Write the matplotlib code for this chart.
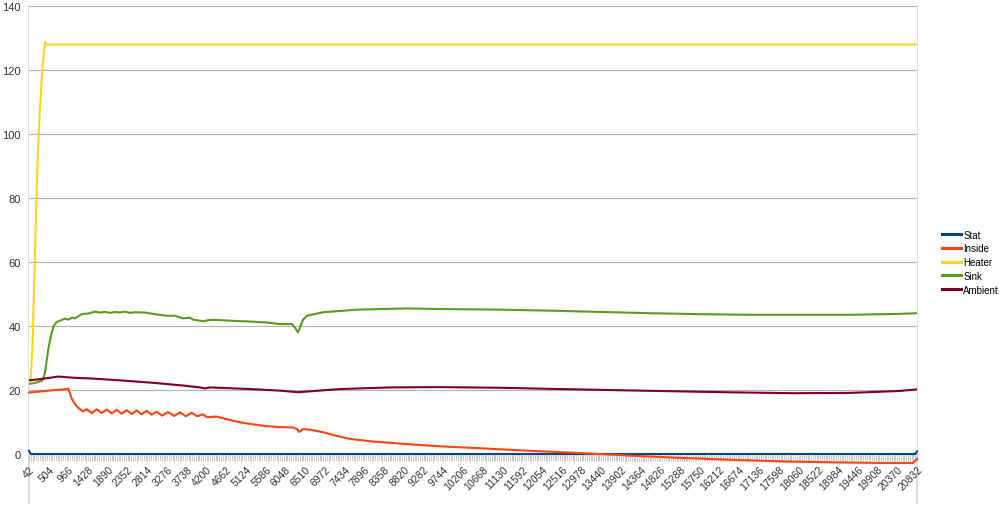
import matplotlib
matplotlib.use("Agg")
import matplotlib.pyplot as plt
from matplotlib.lines import Line2D

plt.rcParams['font.family'] = ['Liberation Sans', 'DejaVu Sans']

# ---------------- data (time samples) ----------------
stat_t = [42, 84, 20790, 20832]
stat_v = [1.0, 0.0, 0.0, 0.8]

inside_t = [42, 500, 924, 962, 1042, 1119, 1189, 1236, 1306, 1393, 1510, 1627, 1744,
            1861, 1978, 2095, 2212, 2329, 2446, 2563, 2680, 2797, 2914, 3032, 3156,
            3296, 3437, 3577, 3717, 3851, 3975, 4115, 4209, 4436, 4630, 4818, 4982,
            5216, 5607, 5918, 6222, 6316, 6363, 6410, 6457, 6620, 6925, 7206, 7557,
            8095, 8891, 9664, 10600, 11770, 12941, 14112, 15282, 16453, 17623, 18794,
            19964, 20737, 20832]
inside_v = [19.2, 19.8, 20.3, 20.4, 17.3, 15.6, 14.5, 14.0, 13.3, 14.0, 12.8, 14.0, 12.8,
            13.9, 12.7, 13.8, 12.6, 13.7, 12.5, 13.6, 12.4, 13.5, 12.3, 13.2, 12.0,
            13.1, 11.9, 13.0, 11.8, 12.9, 11.8, 12.4, 11.5, 11.7, 11.0, 10.4, 9.9,
            9.4, 8.7, 8.4, 8.3, 7.8, 6.9, 7.3, 7.8, 7.6, 6.8, 5.8, 4.7,
            3.9, 3.1, 2.4, 1.8, 1.0, 0.3, -0.5, -1.2, -1.8, -2.3, -2.6,
            -2.8, -2.8, -1.6]

heater_t = [42, 84, 126, 168, 210, 252, 294, 336, 378, 420, 462, 20832]
heater_v = [23.0, 23.5, 35.0, 55.0, 77.0, 95.0, 107.0, 116.0, 124.0, 128.8, 128.0, 128.0]

sink_t = [42, 182, 339, 370, 417, 494, 573, 627, 690, 807, 885, 962, 1049, 1119, 1189,
          1276, 1423, 1587, 1704, 1821, 1938, 2055, 2172, 2289, 2406, 2523, 2758, 2992,
          3265, 3460, 3647, 3811, 3881, 4115, 4279, 4436, 4818, 5216, 5607, 5918, 6199,
          6269, 6340, 6386, 6457, 6550, 6925, 7721, 8891, 9664, 11068, 12238, 13409,
          14580, 15750, 16921, 18091, 19262, 20432, 20832]
sink_v = [21.9, 22.2, 22.9, 23.3, 25.5, 32.8, 38.0, 40.2, 41.2, 41.9, 42.3, 42.0, 42.6,
          42.4, 43.0, 43.7, 43.9, 44.5, 44.2, 44.4, 44.1, 44.4, 44.2, 44.5, 44.1, 44.3,
          44.2, 43.7, 43.2, 43.2, 42.4, 42.6, 42.0, 41.5, 41.9, 41.9, 41.6, 41.4, 41.1,
          40.6, 40.6, 39.5, 38.0, 39.5, 42.0, 43.2, 44.3, 45.1, 45.5, 45.3, 45.1, 44.8,
          44.4, 44.0, 43.7, 43.5, 43.5, 43.5, 43.8, 44.0]

ambient_t = [42, 300, 728, 1119, 1510, 2289, 2992, 3647, 4045, 4162, 4279, 5216, 5918,
             6340, 7323, 8493, 9664, 11068, 12473, 14346, 16382, 17927, 19262, 20432, 20832]
ambient_v = [23.0, 23.4, 24.2, 23.8, 23.6, 22.9, 22.2, 21.4, 20.8, 20.5, 20.8, 20.3, 19.8,
             19.3, 20.3, 20.8, 20.9, 20.7, 20.3, 19.8, 19.3, 19.0, 19.1, 19.7, 20.2]

series_names = ["Stat", "Inside", "Heater", "Sink", "Ambient"]
series_colors = ["#004586", "#ff420e", "#ffd320", "#579d1c", "#7e0021"]

x_start, x_end, x_step, label_every = 42, 20832, 42, 11
y_ticks = [0, 20, 40, 60, 80, 100, 120, 140]

# ---------------- plot ----------------
fig = plt.figure(figsize=(10, 5.06), dpi=100)
L, R, B, T = 29 / 1000, 917 / 1000, (506 - 455) / 506, (506 - 7) / 506
ax = fig.add_axes([L, B, R - L, T - B])

data = [(stat_t, stat_v), (inside_t, inside_v), (heater_t, heater_v),
        (sink_t, sink_v), (ambient_t, ambient_v)]
for (t, v), name, col in zip(data, series_names, series_colors):
    ax.plot(t, v, color=col, lw=1.5, label=name,
            clip_on=(name not in ("Inside", "Stat")),
            solid_joinstyle='round', zorder=3)

ax.set_xlim(x_start, x_end)
ax.set_ylim(0, 140)
ax.set_yticks(y_ticks)
ax.set_yticklabels([str(v) for v in y_ticks])
ax.grid(axis='y', color='#b3b3b3', lw=0.8)
ax.set_axisbelow(True)

cats = list(range(x_start, x_end + 1, x_step))
major = cats[::label_every]
ax.set_xticks(major)
ax.set_xticklabels([str(c) for c in major], rotation=45, ha='right', va='top',
                   rotation_mode='anchor')
ax.set_xticks(cats, minor=True)
ax.tick_params(axis='x', which='both', length=5, width=0.5, color='#b3b3b3',
               labelsize=7.5, labelcolor='#333333', pad=2)
ax.tick_params(axis='y', length=0, labelsize=8, labelcolor='#333333', pad=6)

for s in ['top', 'right', 'bottom', 'left']:
    ax.spines[s].set_visible(False)

# vertical border lines at left and right extending below the axis
for xf in (L, R):
    fig.add_artist(Line2D([xf, xf], [2 / 506, T], transform=fig.transFigure,
                          color='#d9d9d9', lw=1.2, zorder=0))

handles = [Line2D([0], [0], color=c, lw=2.2) for c in series_colors]
fig.legend(handles, series_names, loc='center left', bbox_to_anchor=(0.942, 0.48),
           frameon=False, fontsize=7, handlelength=2.0, handletextpad=0.2,
           labelspacing=0.38, borderaxespad=0, borderpad=0)

fig.savefig("out.png", dpi=100)
